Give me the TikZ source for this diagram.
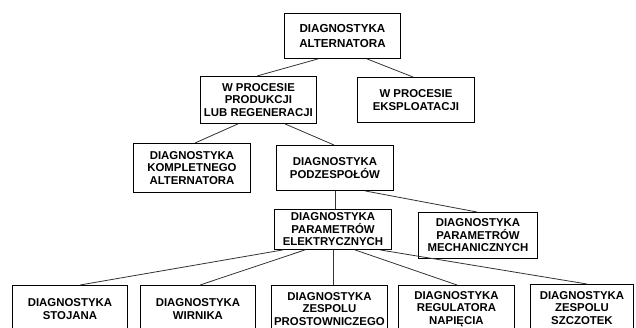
\documentclass[tikz,border=0pt]{standalone}
\usepackage{fontspec}
\setmainfont{Liberation Sans}
\usetikzlibrary{calc}

\begin{document}
\begin{tikzpicture}[x=1pt,y=-1pt,
		box/.style={draw,line width=0.9,anchor=north west,inner sep=0,align=center,
			font=\fontsize{11.4}{12.5}\selectfont\bfseries},
		link/.style={line width=0.8,color=black!80}]
		\useasboundingbox (0,0) rectangle (636,327);
		\node[box,minimum width=116,minimum height=45,font=\fontsize{11.6}{15}\selectfont\bfseries] (alt) at (284,13) {DIAGNOSTYKA\\ALTERNATORA};
		\node[box,minimum width=116,minimum height=47] (prod) at (200,76) {W PROCESIE\\PRODUKCJI\\LUB REGENERACJI};
		\node[box,minimum width=117,minimum height=45] (eksp) at (357,77) {W PROCESIE\\EKSPLOATACJI};
		\node[box,minimum width=117,minimum height=49] (kompl) at (133,143) {DIAGNOSTYKA\\KOMPLETNEGO\\ALTERNATORA};
		\node[box,minimum width=117,minimum height=45] (podz) at (276,145) {DIAGNOSTYKA\\PODZESPOŁÓW};
		\node[box,minimum width=117,minimum height=40] (elek) at (274,209) {DIAGNOSTYKA\\PARAMETRÓW\\ELEKTRYCZNYCH};
		\node[box,minimum width=119,minimum height=46] (mech) at (418,212) {DIAGNOSTYKA\\PARAMETRÓW\\MECHANICZNYCH};
		\node[box,minimum width=115,minimum height=47] (stoj) at (12,285) {DIAGNOSTYKA\\STOJANA};
		\node[box,minimum width=115,minimum height=47] (wirn) at (140,285) {DIAGNOSTYKA\\WIRNIKA};
		\node[box,minimum width=116,minimum height=47] (prost) at (271,285) {DIAGNOSTYKA\\ZESPOLU\\PROSTOWNICZEGO};
		\node[box,minimum width=116,minimum height=47] (regul) at (398,285) {DIAGNOSTYKA\\REGULATORA\\NAPIĘCIA};
		\node[box,minimum width=103,minimum height=47] (szcz) at (530,284) {DIAGNOSTYKA\\ZESPOLU\\SZCZOTEK};
		\draw[link] ($(alt.south west)+(34,0)$) -- ($(prod.north west)+(57,0)$);
		\draw[link] ($(alt.south west)+(83,0)$) -- ($(eksp.north west)+(56,0)$);
		\draw[link] ($(prod.south west)+(38,0)$) -- ($(kompl.north west)+(62,0)$);
		\draw[link] ($(prod.south west)+(85,0)$) -- ($(podz.north west)+(58,0)$);
		\draw[link] (podz.south) -- (podz.south |- elek.north);
		\draw[link] ($(podz.south west)+(89,0)$) -- ($(mech.north west)+(59,0)$);
		\draw[link] ($(elek.south west)+(9,0)$) -- ($(stoj.north west)+(68,0)$);
		\draw[link] ($(elek.south west)+(31,0)$) -- ($(wirn.north west)+(60,0)$);
		\draw[link] (elek.south) -- (elek.south |- prost.north);
		\draw[link] ($(elek.south west)+(81,0)$) -- ($(regul.north west)+(59,0)$);
		\draw[link] ($(elek.south west)+(106,0)$) -- ($(szcz.north west)+(57,0)$);
\end{tikzpicture}
\end{document}
